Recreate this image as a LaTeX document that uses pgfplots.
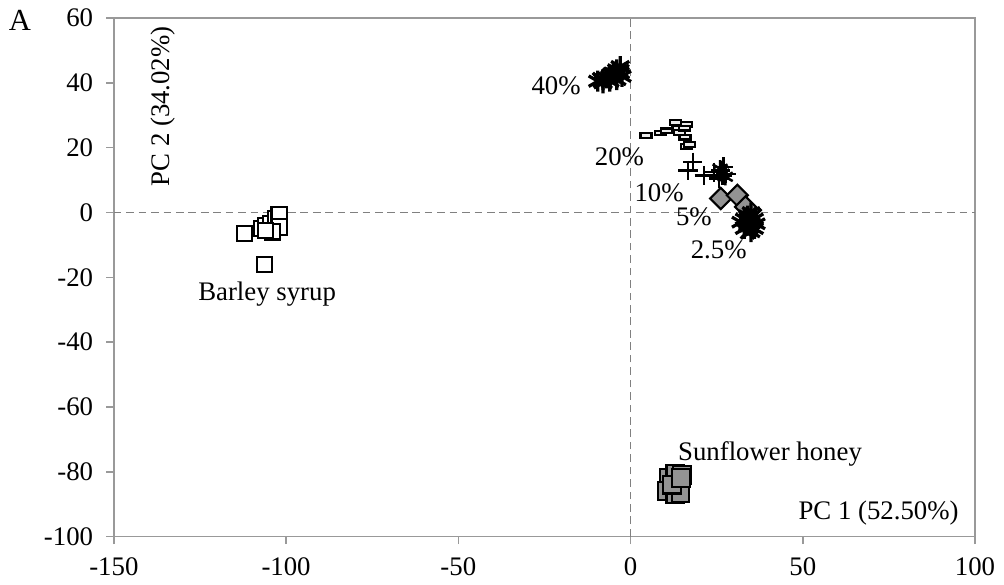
\documentclass[border=0pt]{standalone}
\usepackage{fontspec}
\setmainfont{Liberation Serif}
\usepackage{pgfplots}
\pgfplotsset{compat=1.18}
\begin{document}
\fontsize{14}{16.8}\selectfont
\begin{tikzpicture}
\begin{axis}[
  scale only axis, width=450pt, height=271pt,
  xmin=-150, xmax=100, ymin=-100, ymax=60,
  axis line style={draw=gray!80, line width=0.8pt},
  tick pos=left,
  xtick={-150,-100,-50,0,50,100},
  xticklabels={-150,-100,-50,0,50,100},
  ytick={-100,-80,-60,-40,-20,0,20,40,60},
  yticklabels={-100,-80,-60,-40,-20,0,20,40,60},
  tick align=outside, major tick length=4pt,
  tick style={draw=gray!80, line width=0.8pt},
  xticklabel style={yshift=-2pt},
  yticklabel style={xshift=-2pt},
  clip=false,
]
\draw[gray, line width=0.8pt, dash pattern=on 4pt off 2.5pt] (axis cs:-150,0) -- (axis cs:100,0);
\draw[gray, line width=0.8pt, dash pattern=on 4pt off 2.5pt] (axis cs:0,-100) -- (axis cs:0,60);
% Barley syrup
\addplot[only marks, mark=square*, mark size=4pt, mark options={fill=white, draw=black, line width=1.1pt}] coordinates {
(-112,-6.5) (-107,-5) (-106,-4) (-104.5,-3.5) (-103,-2) (-102,-0.7) (-102,-4.5) (-104,-6) (-106,-5.5) (-106.3,-16)};
% Sunflower honey
\addplot[only marks, mark=square*, mark size=4.6pt, mark options={fill=gray!85, draw=black, line width=1.1pt}] coordinates {
(11,-82) (13,-80.5) (15,-81) (10.5,-86) (13,-87) (14.5,-86.5) (12,-84) (14.7,-82)};
% 40%
\addplot[only marks, mark=asterisk, mark size=5.5pt, mark options={draw=black, line width=1.7pt}] coordinates {
(-9.5,40.5) (-8,41) (-7,41.5) (-6,42) (-5,43) (-4,44) (-3,43) (-4,41) (-2.5,42) (-8,40) (-6,40.5) (-3,45)};
\addplot[only marks, mark=x, mark size=5pt, mark options={draw=black, line width=1.7pt}] coordinates {
(-9,41) (-6,42.5) (-4,43) (-2.5,43.5)};
% 20%
\addplot[only marks, mark=square*, mark size=2.2pt, mark options={fill=gray!15, draw=black, line width=1.2pt, xscale=1.3, yscale=0.55}] coordinates {
(4.5,23.7) (8.7,24.5) (10.4,25.2) (13.1,27.7) (16.2,27.1) (13.8,26) (14.3,24.7) (15.8,23.2) (16.2,20.3) (17.1,21) (15.7,26)};
% 10%
\addplot[only marks, mark=+, mark size=5pt, mark options={draw=black, line width=1.3pt}] coordinates {
(16.7,13) (18.1,15.5) (21.4,11.4) (24.3,12.4) (26.2,13) (26.7,11.4) (27.7,11.9) (25.7,10.4) (27,14)};
\addplot[only marks, mark=asterisk, mark size=4.5pt, mark options={draw=black, line width=1.3pt}] coordinates {
(26.5,12) (27.5,11) (26,13.5)};
% 5%
\addplot[only marks, mark=square*, mark size=3.9pt, mark options={fill=gray!85, draw=black, line width=1.1pt, rotate=45}] coordinates {
(26.2,4.3) (31,5.3) (33.4,1.7)};
% 2.5%
\addplot[only marks, mark=asterisk, mark size=5.3pt, mark options={draw=black, line width=1.7pt}] coordinates {
(33,-2) (34,-4) (35,-3) (36,-5) (34,-1) (32,-3) (35,-6) (36,-2) (33,-5) (35,0) (34.5,-2.5) (36.5,-3.5)};
\addplot[only marks, mark=x, mark size=5pt, mark options={draw=black, line width=1.7pt}] coordinates {
(33.5,-3) (35,-4.5) (34,-6) (36,-1)};
% labels
\node at (axis cs:-21.6,39.1) {40\%};
\node at (axis cs:-3.2,17.1) {20\%};
\node at (axis cs:8.3,6) {10\%};
\node at (axis cs:18.4,-1.3) {5\%};
\node at (axis cs:25.6,-11.5) {2.5\%};
\node at (axis cs:-105.5,-25.3) {Barley syrup};
\node at (axis cs:40.5,-74.4) {Sunflower honey};
\node at (axis cs:72,-92.8) {PC 1 (52.50\%)};
\node[rotate=90] at (axis cs:-135.6,32.7) {PC 2 (34.02\%)};
\node[font=\fontsize{16}{19}\selectfont] at (axis description cs:-0.109,0.995) {A};
\end{axis}
\end{tikzpicture}
\end{document}
